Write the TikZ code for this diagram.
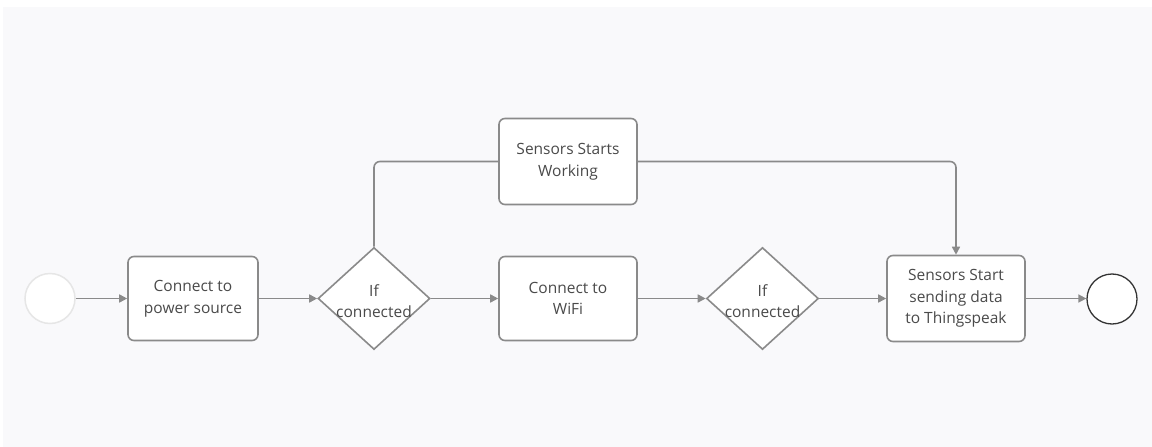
\documentclass[tikz,border=0pt]{standalone}
\usepackage{fontspec}
\setmainfont{Open Sans}
\usetikzlibrary{shapes.geometric,arrows.meta}
\definecolor{bgc}{HTML}{F9F9FB}
\definecolor{edgec}{HTML}{8A8A8A}
\definecolor{txtc}{HTML}{4A4A4A}
\definecolor{startc}{HTML}{E6E6E6}
\definecolor{endc}{HTML}{333333}
\begin{document}
\begin{tikzpicture}[x=1pt,y=-1pt,
  taskbox/.style={draw=edgec,line width=1.6pt,fill=white,rounded corners=6pt,
    minimum width=138pt,minimum height=86pt,inner sep=0pt,align=center,
    text=txtc,font=\fontsize{15.5}{21.5}\selectfont},
  gate/.style={draw=edgec,line width=1.6pt,fill=white,diamond,
    minimum width=112pt,minimum height=102pt,inner sep=0pt},
  gatetext/.style={align=center,text=txtc,font=\fontsize{15.5}{21.5}\selectfont,inner sep=0pt},
  flow/.style={draw=edgec,line width=1.6pt,-{Triangle[length=8pt,width=8pt]}},
  plain/.style={draw=edgec,line width=1.6pt,rounded corners=6pt}
]
\useasboundingbox (0,0) rectangle (1152,447);
\fill[white] (0,0) rectangle (1152,447);
\fill[bgc] (3,7) rectangle (1152,447);

\node[circle,draw=startc,line width=1.5pt,fill=white,minimum size=50pt,inner sep=0pt] (start) at (50,298.5) {};
\node[taskbox,minimum width=130pt,minimum height=84pt] (power) at (193,298.5) {Connect to\\power source};
\node[gate] (d1) at (374,298.5) {};
\node[gatetext] (d1t) at (374,301) {If\\connected};
\node[taskbox] (sensors) at (568,161.5) {Sensors Starts\\Working};
\node[taskbox,minimum height=84pt] (wifi) at (568,298.5) {Connect to\\WiFi};
\node[gate] (d2) at (762.5,298.5) {};
\node[gatetext] (d2t) at (762.5,301) {If\\connected};
\node[taskbox] (send) at (956,298.5) {Sensors Start\\sending data\\to Thingspeak};
\node[circle,draw=endc,line width=1.3pt,fill=white,minimum size=50pt,inner sep=0pt] (end) at (1112,299) {};

\draw[flow] (start.east) -- (power.west);
\draw[flow] (power.east) -- (d1.west);
\draw[flow] (d1.east) -- (wifi.west);
\draw[flow] (wifi.east) -- (d2.west);
\draw[flow] (d2.east) -- (send.west);
\draw[flow] (send.east) -- (end.west |- send.east);
\draw[plain] (d1.north) |- (sensors.west);
\draw[plain,-{Triangle[length=8pt,width=8pt]}] (sensors.east) -| (send.north);
\end{tikzpicture}
\end{document}
